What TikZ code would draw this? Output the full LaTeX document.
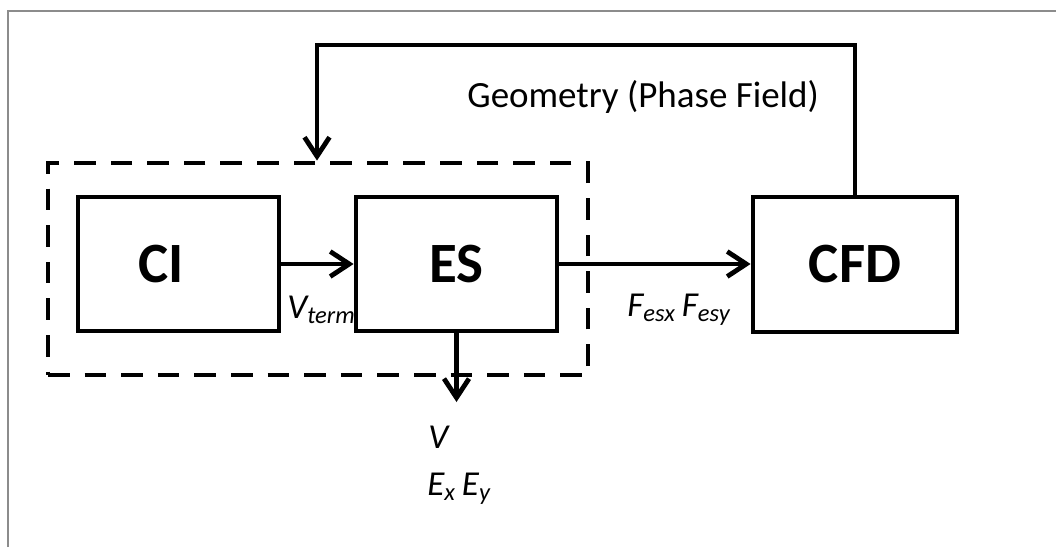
\documentclass[tikz,border=0pt]{standalone}
\usepackage{fontspec}
\setmainfont{Carlito}
\usetikzlibrary{positioning, calc, fit, arrows.meta}
\definecolor{frame}{HTML}{8C8C8C}

\begin{document}
\begin{tikzpicture}[
        x=0.5pt, y=-0.5pt,
        block/.style={rectangle, draw, line width=2.4pt, align=center, minimum width=100.5pt, minimum height=67pt, font=\fontsize{28.5}{34}\selectfont\bfseries},
        groupbox/.style={draw, line width=2.4pt, dash pattern=on 10.8pt off 7.5pt, inner sep=0pt},
        lbl/.style={font=\fontsize{17.5}{21}\selectfont\itshape, inner sep=0pt},
        arrow/.style={-{Straight Barb[length=9.5pt, width=12.5pt, line width=2.4pt]}, line width=2.4pt}
    ]
    \useasboundingbox (0,0) rectangle (1056,547);
    \draw [frame, line width=1pt] (8,547) -- (8,10.5) -- (1056,10.5);

    % Nodes
    \node (ci) [block] at (178.5,264) {CI\hspace{17pt}};
    \node (es) [block] at (456.5,264) {ES};
    \node (cfd) [block, minimum width=102pt, minimum height=67.5pt] at (855,264.5) {CFD};

    \node (group) [groupbox, fit={(48,163) (588,375)}] {};

    \node (geom) [anchor=base west, inner sep=0pt, font=\fontsize{18.5}{22}\selectfont] at (467,107) {Geometry (Phase Field)};
    \node (vterm) [lbl, anchor=base west] at (287,318) {V\textsubscript{term}};
    \node (fes) [lbl, anchor=base west] at (627,316) {F\textsubscript{esx}\,F\textsubscript{esy}};

    \coordinate (turn) at (317,45);
    \coordinate (esout) at (456.5,402);
    \node (vout) [lbl, anchor=base west] at (428,448) {V};
    \node (eout) [lbl, anchor=base west] at ($(vout.base west)+(-1,47)$) {E\textsubscript{x}\,E\textsubscript{y}};

    % Arrows
    \draw [arrow] (ci) -- (es);
    \draw [arrow] (es.east) -- (es.east -| cfd.west);
    \draw [arrow] (es.south) -- (esout);
    \draw [arrow] (cfd.north) |- (turn) -- (turn |- group.north);

\end{tikzpicture}
\end{document}
